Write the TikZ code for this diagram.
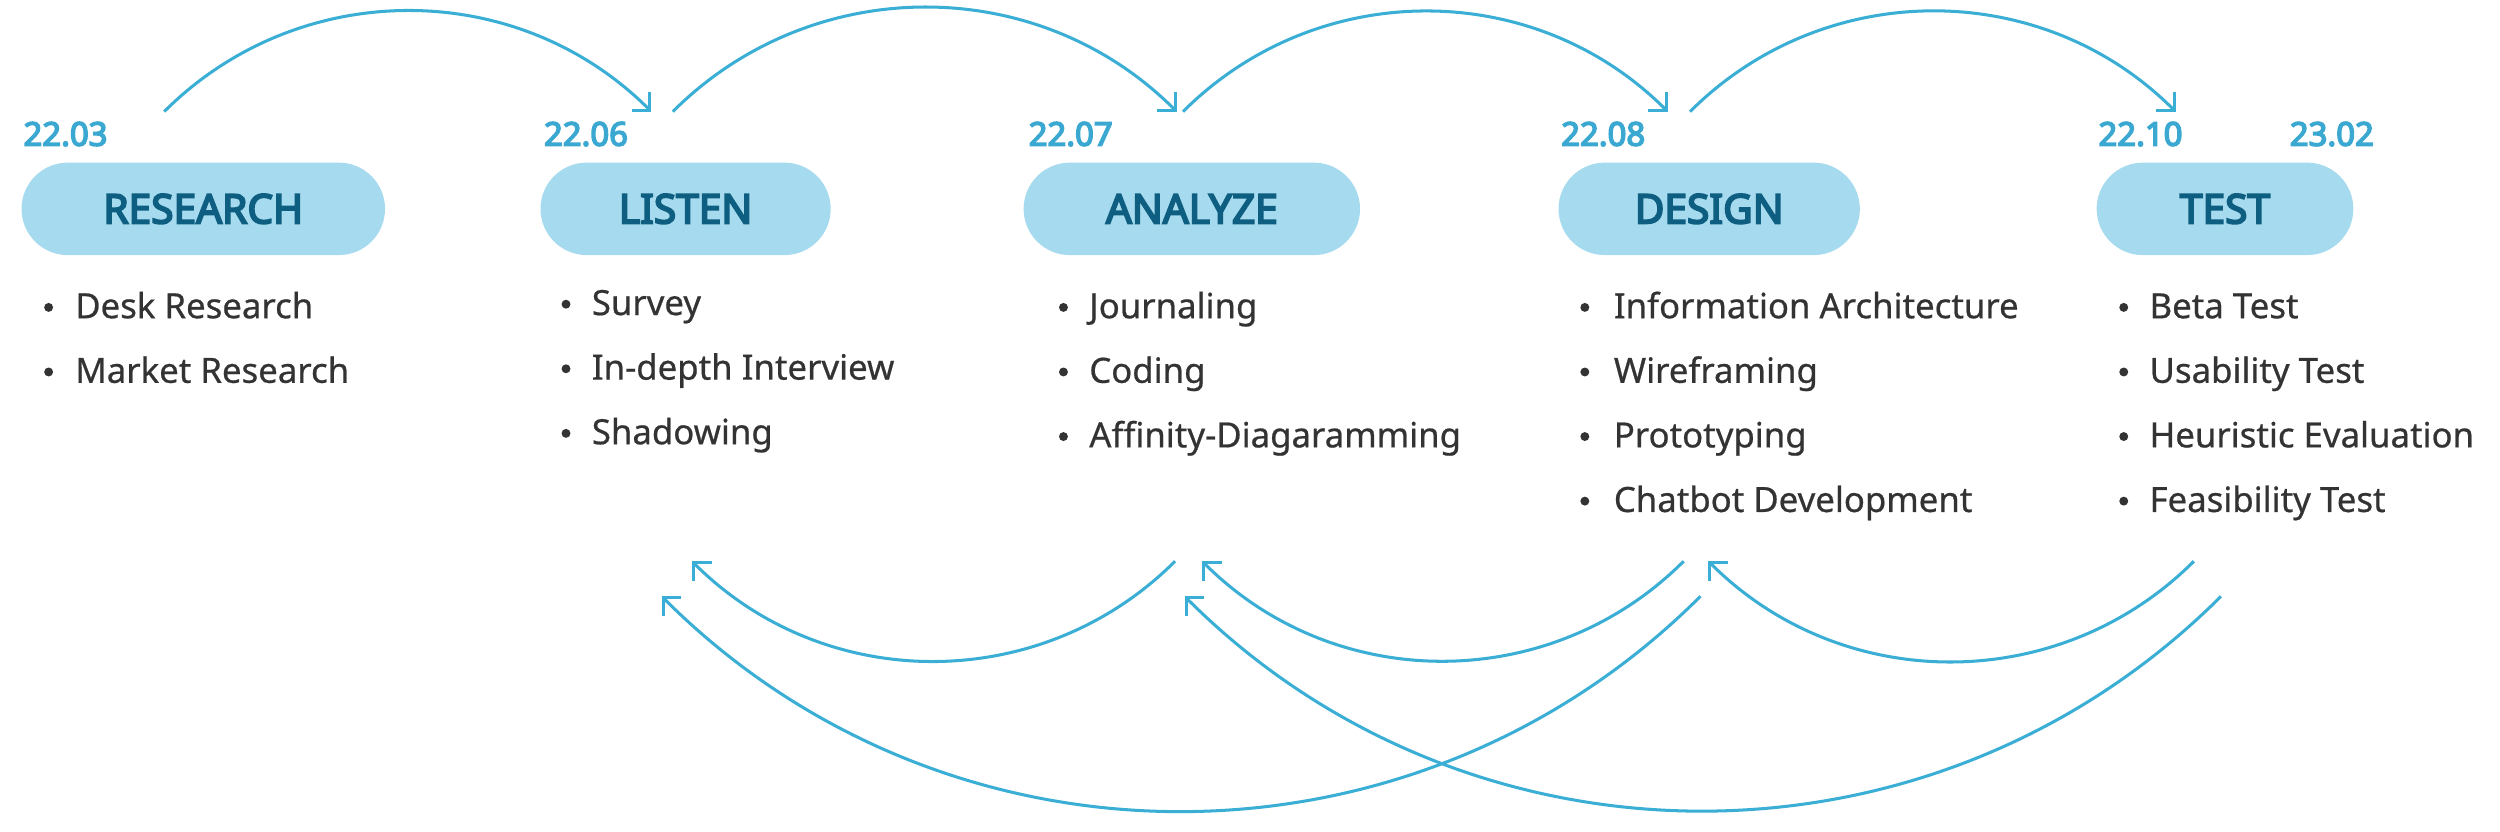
\documentclass[tikz,border=0pt]{standalone}
\usepackage{fontspec}
\setmainfont{Noto Sans}
\newfontfamily\headfont{Noto Sans}[FakeBold=4.5]
\newfontfamily\datefont{Noto Sans}[FakeBold=4.5]
\newfontfamily\bodyfont{Noto Sans}[FakeBold=0.6]
\usetikzlibrary{arrows.meta}
\definecolor{pillfill}{HTML}{A6DAEE}
\definecolor{pilltext}{HTML}{0D5E80}
\definecolor{datecol}{HTML}{3AA8D0}
\definecolor{arccol}{HTML}{3AAED4}
\definecolor{bodytext}{HTML}{333333}
\begin{document}
\begin{tikzpicture}[x=1pt,y=-1pt,
  pill/.style={fill=pillfill, rounded corners=29pt, minimum height=58pt, inner sep=0pt, text=pilltext, font=\headfont\fontsize{25.5}{26}\selectfont},
  datelbl/.style={anchor=base west, inner sep=0pt, text=datecol, font=\datefont\fontsize{20.6}{21}\selectfont},
  item/.style={anchor=base west, inner sep=0pt, text=bodytext, font=\bodyfont\fontsize{21.8}{22}\selectfont},
  dot/.style={circle, fill=bodytext, inner sep=0pt, minimum size=5.6pt},
  flow/.style={draw=arccol, line width=1.9pt, -{Straight Barb[length=8pt,width=16pt]}},
]
\useasboundingbox (0,0) rectangle (1568,521.8);

% phase pills
\node[pill, minimum width=228pt] (research) at (127.5,131) {RESEARCH};
\node[pill, minimum width=182pt] (listen)   at (430,131)   {LISTEN};
\node[pill, minimum width=211pt] (analyze)  at (747.5,131) {ANALYZE};
\node[pill, minimum width=189pt] (design)   at (1072,131)  {DESIGN};
\node[pill, minimum width=161pt] (test)     at (1395.5,131) {TEST};

% dates
\node[datelbl] (d1) at (14.6,91.4) {22.03};
\node[datelbl] (d2) at (341,91.4) {22.06};
\node[datelbl] (d3) at (645,91.4) {22.07};
\node[datelbl] (d4) at (979,91.4) {22.08};
\node[datelbl] (d5) at (1316,91.4) {22.10};
\node[datelbl] (d6) at (1436,91.4) {23.02};

% lists
\node[item] (r1) at (47,199.6) {Desk Research};
\node[item] (r2) at (47,240.1) {Market Research};
\node[dot] (rb1) at (30.5,192.8) {};
\node[dot] (rb2) at (30.5,233.3) {};

\node[item] (l1) at (371,197.6) {Survey};
\node[item] (l2) at (371,238.1) {In-depth Interview};
\node[item] (l3) at (371,278.6) {Shadowing};
\node[dot] (lb1) at (355,190.8) {};
\node[dot] (lb2) at (355,231.3) {};
\node[dot] (lb3) at (355,271.8) {};

\node[item] (a1) at (683,199.6) {Journaling};
\node[item] (a2) at (683,240.1) {Coding};
\node[item] (a3) at (683,280.6) {Affinity-Diagaramming};
\node[dot] (ab1) at (667,192.8) {};
\node[dot] (ab2) at (667,233.3) {};
\node[dot] (ab3) at (667,273.8) {};

\node[item] (g1) at (1012,199.6) {Information Architecture};
\node[item] (g2) at (1012,240.1) {Wireframing};
\node[item] (g3) at (1012,280.6) {Prototyping};
\node[item] (g4) at (1012,321.1) {Chatbot Development};
\node[dot] (gb1) at (994,192.8) {};
\node[dot] (gb2) at (994,233.3) {};
\node[dot] (gb3) at (994,273.8) {};
\node[dot] (gb4) at (994,314.3) {};

\node[item] (s1) at (1348,199.6) {Beta Test};
\node[item] (s2) at (1348,240.1) {Usability Test};
\node[item] (s3) at (1348,280.6) {Heuristic Evaluation};
\node[item] (s4) at (1348,321.1) {Feasibility Test};
\node[dot] (sb1) at (1332,192.8) {};
\node[dot] (sb2) at (1332,233.3) {};
\node[dot] (sb3) at (1332,273.8) {};
\node[dot] (sb4) at (1332,314.3) {};

% arc end points
\coordinate (t1s) at (103,70);   \coordinate (t1e) at (408.5,70);
\coordinate (t2s) at (422,70);   \coordinate (t2e) at (738,70);
\coordinate (t3s) at (742,70);   \coordinate (t3e) at (1046,70);
\coordinate (t4s) at (1060,70);  \coordinate (t4e) at (1364.5,70);

\coordinate (bAs) at (737,352);  \coordinate (bAe) at (434,352);
\coordinate (bBs) at (1056,352); \coordinate (bBe) at (754,352);
\coordinate (bCs) at (1376,352); \coordinate (bCe) at (1071.5,352);
\coordinate (bDs) at (1066.5,374); \coordinate (bDe) at (415,374);
\coordinate (bEs) at (1393,374); \coordinate (bEe) at (743,374);

% forward arcs
\draw[flow] (t1s) .. controls +(84.3,-84.3) and +(-84.3,-84.3) .. (t1e);
\draw[flow] (t2s) .. controls +(87.2,-87.2) and +(-87.2,-87.2) .. (t2e);
\draw[flow] (t3s) .. controls +(83.9,-83.9) and +(-83.9,-83.9) .. (t3e);
\draw[flow] (t4s) .. controls +(84,-84) and +(-84,-84) .. (t4e);

% feedback arcs
\draw[flow] (bAs) .. controls +(-83.6,83.6) and +(83.6,83.6) .. (bAe);
\draw[flow] (bBs) .. controls +(-83.4,83.4) and +(83.4,83.4) .. (bBe);
\draw[flow] (bCs) .. controls +(-84,84) and +(84,84) .. (bCe);
\draw[flow] (bDs) .. controls +(-179.8,179.8) and +(179.8,179.8) .. (bDe);
\draw[flow] (bEs) .. controls +(-179.4,179.4) and +(179.4,179.4) .. (bEe);
\end{tikzpicture}
\end{document}
